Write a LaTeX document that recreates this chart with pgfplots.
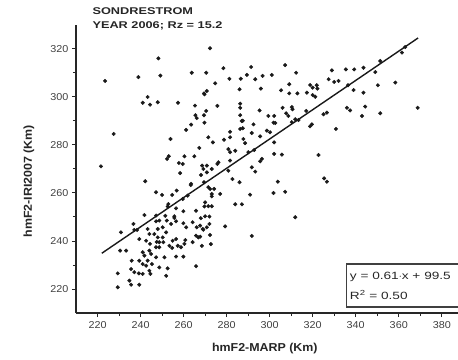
\documentclass[border=0pt]{standalone}
\usepackage{pgfplots}
\pgfplotsset{compat=1.18}
\usepackage{pgfplotstable}
\usepackage{fontspec}
\setmainfont{Liberation Sans}
\newfontfamily\widefont[FakeStretch=1.3]{Liberation Sans}
\newfontfamily\midfont[FakeStretch=1.08]{Liberation Sans}
\pgfplotstableread{
x y
223.5 306.7
239.0 308.3
248.3 316.1
249.2 308.9
263.8 310.1
243.3 300.0
241.0 297.6
244.4 296.8
248.0 297.8
257.4 297.6
263.5 288.5
265.5 292.4
266.1 291.2
265.3 296.4
269.7 301.1
269.7 289.3
227.5 284.6
221.6 271.1
261.2 286.3
253.9 282.5
253.1 275.3
252.3 274.2
260.4 275.3
265.0 275.3
267.3 278.8
257.8 272.5
259.6 272.1
258.4 268.3
268.6 271.4
268.1 267.5
242.2 264.9
263.5 263.8
247.2 260.3
250.0 259.2
254.7 259.2
256.8 261.0
259.6 257.5
261.9 258.9
252.6 254.4
256.5 253.6
241.8 250.8
247.2 250.6
255.7 250.3
265.8 252.6
269.7 254.4
275.7 272.1
263.3 263.3
252.9 255.4
259.9 252.4
272.3 320.3
270.5 310.1
278.5 312.0
291.4 312.5
307.2 313.3
274.7 305.7
281.3 307.6
286.6 307.6
289.4 309.2
293.3 307.4
296.7 308.8
301.0 309.2
312.3 310.1
327.4 307.4
269.5 301.5
270.8 302.5
286.0 303.2
295.9 303.5
305.3 302.8
309.1 305.3
309.1 301.5
312.9 301.5
318.8 305.0
321.9 304.9
320.0 303.9
322.2 303.5
320.0 300.8
321.2 300.1
317.3 301.8
275.7 296.3
286.3 297.2
286.3 295.5
295.3 294.4
306.0 295.5
310.3 295.8
310.6 294.9
270.5 294.2
269.5 292.4
286.3 292.4
287.0 290.0
299.4 292.1
302.1 292.1
307.7 293.2
308.7 292.1
311.9 290.7
292.5 288.6
301.8 289.3
317.0 294.2
325.0 292.8
326.6 293.5
319.6 288.6
328.9 311.1
335.4 311.5
339.3 311.5
343.6 312.2
351.4 315.0
361.5 318.5
363.0 320.8
330.0 306.3
332.0 306.7
336.4 304.9
349.1 310.4
339.0 302.9
350.3 304.9
358.4 306.0
343.6 301.8
335.9 295.5
337.4 294.4
344.4 296.0
342.9 292.1
351.4 293.2
368.8 295.5
330.8 286.7
287.5 290.1
302.6 289.2
310.3 289.5
313.4 290.4
318.8 287.8
286.3 286.7
287.5 287.0
281.6 285.5
291.7 285.0
295.6 283.6
298.7 286.0
300.2 285.3
271.5 283.2
273.6 281.1
278.8 282.2
281.6 283.2
287.8 282.5
288.6 280.8
302.1 281.1
280.8 278.3
281.6 277.0
284.0 277.6
290.1 277.0
292.8 277.9
302.1 276.3
305.7 276.0
322.7 275.8
296.4 274.2
295.6 273.2
276.2 272.8
281.6 273.5
270.8 271.4
269.2 270.0
270.8 268.6
273.1 270.0
280.8 269.3
291.7 270.7
293.3 268.9
282.7 265.8
286.0 264.5
303.8 264.7
307.2 260.5
301.8 260.0
290.9 259.3
325.3 266.1
326.6 264.7
272.3 261.7
274.2 261.7
273.1 259.6
277.0 259.6
273.1 258.6
270.0 256.1
271.5 254.5
273.1 254.5
284.0 255.3
287.1 255.3
311.9 249.9
268.0 249.5
270.0 250.3
272.0 250.2
279.3 246.1
291.7 242.1
269.2 244.7
267.7 241.8
272.3 242.5
272.7 238.7
265.8 229.5
269.5 264.5
271.5 262.4
230.9 243.6
237.1 244.6
238.4 244.6
247.2 248.2
248.7 248.5
251.5 250.5
255.7 249.6
256.5 248.2
259.9 247.4
261.2 245.7
264.2 247.8
268.9 245.0
239.4 240.8
242.6 240.1
243.3 245.0
244.1 242.9
246.4 242.9
248.0 241.5
248.7 239.5
250.3 241.5
251.9 243.6
254.9 240.1
256.5 240.8
257.3 238.0
258.8 237.4
253.4 238.0
254.7 237.1
260.4 238.8
260.8 240.4
264.2 239.5
265.8 242.2
247.2 237.4
248.7 237.4
244.1 236.0
244.9 234.6
241.0 235.3
241.8 233.9
247.2 233.2
251.1 233.2
256.5 233.5
259.9 233.5
235.9 231.8
239.4 231.8
241.0 230.4
242.6 229.7
243.3 231.8
245.3 230.4
248.7 229.0
252.6 228.6
235.6 228.3
237.1 227.0
239.2 226.5
241.0 226.3
244.1 227.6
244.6 226.3
251.9 225.5
229.4 226.5
234.8 223.5
235.6 221.8
239.4 221.8
229.4 220.7
248.0 245.0
250.3 245.7
254.2 247.1
230.5 236.0
233.3 236.0
236.7 247.1
252.2 248.5
266.1 245.7
267.7 246.4
270.8 245.7
272.0 247.1
266.9 241.5
268.5 238.0
247.5 239.6
250.6 239.5
244.4 238.8
}\scatterdata
\begin{document}
\begin{tikzpicture}
\begin{axis}[
  scale only axis,
  width=383pt, height=288pt,
  xmin=210, xmax=388, ymin=210, ymax=330,
  axis lines*=left,
  axis line style={line width=1.3pt, black!85, -},
  xtick={220,240,...,380}, ytick={220,240,...,320},
  minor xtick={230,250,...,370}, minor ytick={230,250,...,310},
  tick align=outside,
  major tick length=4pt, minor tick length=3pt,
  every tick/.style={line width=1pt, black!85},
  /pgf/number format/assume math mode=true,
  tick label style={font=\midfont\fontsize{10}{12}\selectfont, text=black!75},
  xticklabel style={yshift=-1pt},
  xlabel={\bfseries hmF2-MARP (Km)},
  ylabel={\bfseries hmF2-IRI2007 (Km)},
  label style={font=\midfont\fontsize{11.5}{13}\selectfont, text=black!85},
  xlabel style={at={(rel axis cs:0.493,-0.122)}, anchor=center},
  ylabel style={at={(rel axis cs:-0.123,0.458)}, anchor=center},
  clip=false,
]
\addplot[only marks, mark=*, mark size=1.8pt, black!90] table[x=x,y=y] {\scatterdata};
\addplot[black!90, line width=1.4pt] coordinates {(222,234.9) (369,324.6)};
\coordinate (O) at (rel axis cs:0,0);
\node[anchor=west, font=\widefont\fontsize{9.8}{11}\selectfont\bfseries, text=black!85, inner sep=0pt] at (axis cs:217.6,335.6) {SONDRESTROM};
\node[anchor=west, font=\widefont\fontsize{9.8}{11}\selectfont\bfseries, text=black!85, inner sep=0pt] at (axis cs:217.6,329.8) {YEAR 2006; Rz = 15.2};
\draw[line width=1.1pt, black!75] (axis cs:335.6,212.5) rectangle (axis cs:387.8,230.4);
\node[anchor=west, font=\widefont\fontsize{10.5}{13}\selectfont, text=black!85, inner sep=0pt] at (axis cs:337.2,225.2) {y = 0.61$\cdot$x + 99.5};
\node[anchor=west, font=\widefont\fontsize{10.5}{13}\selectfont, text=black!85, inner sep=0pt] at (axis cs:337.2,217.6) {R\textsuperscript{2} = 0.50};
\end{axis}
\pgfresetboundingbox
\useasboundingbox (O) ++(-76pt,-46pt) rectangle ++(458pt,359pt);
\end{tikzpicture}
\end{document}
